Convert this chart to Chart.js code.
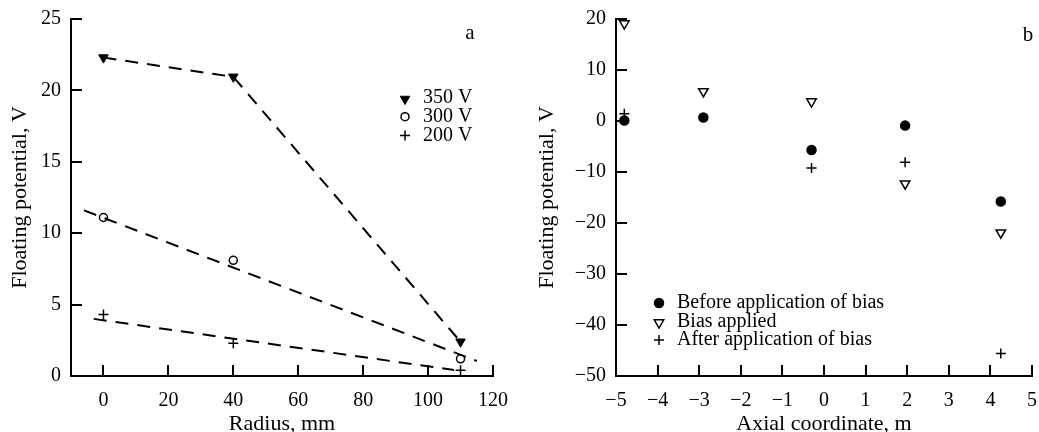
<!DOCTYPE html>
<html>
<head>
<meta charset="utf-8">
<script src="https://cdn.jsdelivr.net/npm/chart.js@4/dist/chart.umd.min.js"></script>
<style>
  body { margin: 0; background: #fff; }
  #wrap { position: relative; width: 1039px; height: 432px; overflow: hidden; }
  #panel-a { position: absolute; left: 0; top: 0; }
  #panel-b { position: absolute; left: 520px; top: 0; }
</style>
</head>
<body>
<div id="wrap">
  <canvas id="panel-a" width="520" height="432"></canvas>
  <canvas id="panel-b" width="519" height="432"></canvas>
</div>
<script>
// Panel a: floating potential vs radius for three discharge voltages
const radiusMm = [0, 40, 110];
const pot350 = [22.3, 20.95, 2.4];
const pot300 = [11.1, 8.1, 1.2];
const pot200 = [4.3, 2.3, 0.4];

// dashed guide lines drawn through each voltage group
const guide350X = [0, 40, 110];
const guide350Y = [22.3, 20.95, 2.4];
const guide300X = [-6, 115];
const guide300Y = [11.6, 1.05];
const guide200X = [-3, 108];
const guide200Y = [4.0, 0.42];

const radiusTicks = [0, 20, 40, 60, 80, 100, 120];
const potTicksA = [0, 5, 10, 15, 20, 25];

// Panel b: floating potential along the axis
const axialM = [-4.8, -2.9, -0.3, 1.95, 4.25];
const potBefore = [0.1, 0.7, -5.7, -0.9, -15.8];
const potBias = [19.1, 5.8, 3.8, -12.3, -21.9];
const axialAfter = [-4.8, -0.3, 1.95, 4.25];
const potAfter = [1.4, -9.2, -8.1, -45.6];

const axialTicks = [-5, -4, -3, -2, -1, 0, 1, 2, 3, 4, 5];
const potTicksB = [20, 10, 0, -10, -20, -30, -40, -50];

const SERIF = "'Liberation Serif', 'Times New Roman', serif";

function toPoints(xs, ys) {
    return xs.map((x, i) => ({ x: x, y: ys[i] }));
}

function minusLabel(v) {
    return v < 0 ? '\u2212' + Math.abs(v) : String(v);
}

// ticks in these plots point into the plot area, so draw them ourselves
const innerTicks = {
    id: 'innerTicks',
    afterDatasetsDraw(chart) {
        const { ctx, chartArea } = chart;
        const sx = chart.scales.x, sy = chart.scales.y;
        ctx.save();
        ctx.strokeStyle = '#000';
        ctx.lineWidth = 2;
        ctx.beginPath();
        sx.ticks.forEach(t => {
            const px = Math.round(sx.getPixelForValue(t.value));
            ctx.moveTo(px, chartArea.bottom);
            ctx.lineTo(px, chartArea.bottom - 11);
        });
        sy.ticks.forEach(t => {
            const py = Math.round(sy.getPixelForValue(t.value));
            ctx.moveTo(chartArea.left, py);
            ctx.lineTo(chartArea.left + 11, py);
        });
        ctx.stroke();
        ctx.restore();
    }
};

// small legend + panel letter drawn inside the plot
const panelNotes = {
    id: 'panelNotes',
    afterDraw(chart) {
        const opts = chart.options.plugins.panelNotes;
        const ctx = chart.ctx;
        ctx.save();
        ctx.font = '20px ' + SERIF;
        ctx.textBaseline = 'middle';
        ctx.fillStyle = '#000';
        opts.entries.forEach((e, i) => {
            const ds = chart.data.datasets[e.dataset];
            const y = opts.top + i * opts.step;
            ctx.fillStyle = ds.pointBackgroundColor;
            ctx.strokeStyle = ds.pointBorderColor;
            ctx.lineWidth = ds.pointBorderWidth;
            Chart.helpers.drawPoint(ctx, {
                pointStyle: ds.pointStyle,
                rotation: ds.pointRotation || 0,
                radius: ds.pointRadius,
                borderWidth: ds.pointBorderWidth
            }, opts.markerX, y + (ds.pointRotation ? 1 : 0));
            ctx.fillStyle = '#000';
            ctx.textAlign = 'left';
            ctx.fillText(e.label, opts.textX, y);
        });
        ctx.font = '21px ' + SERIF;
        ctx.textAlign = 'center';
        ctx.fillText(opts.letter, opts.letterX, opts.letterY);
        ctx.restore();
    }
};

function axisOptions(cfg) {
    return {
        x: {
            type: 'linear',
            min: cfg.xMin,
            max: cfg.xMax,
            afterBuildTicks: s => { s.ticks = cfg.xTicks.map(v => ({ value: v })); },
            afterFit: s => { s.height = 56; s.paddingLeft = 0; s.paddingRight = 0; },
            grid: { display: false, drawTicks: false },
            border: { display: true, color: '#000', width: 2 },
            ticks: {
                padding: 13,
                color: '#000',
                font: { family: SERIF, size: 20 },
                maxRotation: 0,
                autoSkip: false,
                callback: v => minusLabel(v)
            },
            title: {
                display: true,
                text: cfg.xTitle,
                color: '#000',
                font: { family: SERIF, size: 22 },
                padding: { top: 0, bottom: -5 }
            }
        },
        y: {
            type: 'linear',
            min: cfg.yMin,
            max: cfg.yMax,
            afterBuildTicks: s => { s.ticks = cfg.yTicks.map(v => ({ value: v })); },
            afterFit: s => { s.width = cfg.yWidth; s.paddingTop = 0; s.paddingBottom = 0; },
            grid: { display: false, drawTicks: false },
            border: { display: true, color: '#000', width: 2 },
            ticks: {
                padding: 10,
                color: '#000',
                font: { family: SERIF, size: 20 },
                autoSkip: false,
                callback: v => minusLabel(v)
            },
            title: {
                display: true,
                text: 'Floating potential, V',
                color: '#000',
                font: { family: SERIF, size: 22 },
                padding: { top: cfg.yTitlePad, bottom: 0 }
            }
        }
    };
}

function guide(xs, ys) {
    return {
        data: toPoints(xs, ys),
        showLine: true,
        borderColor: '#000',
        borderWidth: 2,
        borderDash: [13, 9],
        pointRadius: 0,
        fill: false
    };
}

function marks(xs, ys, style) {
    return Object.assign({
        data: toPoints(xs, ys),
        showLine: false,
        pointBorderColor: '#000',
        pointBackgroundColor: '#000',
        pointBorderWidth: 1.5
    }, style);
}

new Chart(document.getElementById('panel-a'), {
    type: 'scatter',
    data: {
        datasets: [
            guide(guide350X, guide350Y),
            guide(guide300X, guide300Y),
            guide(guide200X, guide200Y),
            marks(radiusMm, pot350, { pointStyle: 'triangle', pointRotation: 180, pointRadius: 5.5, pointBorderWidth: 1 }),
            marks(radiusMm, pot300, { pointStyle: 'circle', pointBackgroundColor: '#fff', pointRadius: 4 }),
            marks(radiusMm, pot200, { pointStyle: 'cross', pointRadius: 5, pointBorderWidth: 1.5 })
        ]
    },
    options: {
        responsive: false,
        animation: false,
        layout: { padding: { left: 0, right: 27, top: 19, bottom: 0 } },
        scales: axisOptions({
            xMin: -10, xMax: 120, xTicks: radiusTicks, xTitle: 'Radius, mm',
            yMin: 0, yMax: 25, yTicks: potTicksA, yWidth: 71, yTitlePad: 7
        }),
        plugins: {
            legend: { display: false },
            tooltip: { enabled: false },
            panelNotes: {
                entries: [
                    { dataset: 3, label: '350 V' },
                    { dataset: 4, label: '300 V' },
                    { dataset: 5, label: '200 V' }
                ],
                markerX: 405, textX: 423, top: 98, step: 18.7,
                letter: 'a', letterX: 470, letterY: 33
            }
        }
    },
    plugins: [innerTicks, panelNotes]
});

new Chart(document.getElementById('panel-b'), {
    type: 'scatter',
    data: {
        datasets: [
            marks(axialM, potBefore, { pointStyle: 'circle', pointRadius: 4.5 }),
            marks(axialM, potBias, { pointStyle: 'triangle', pointRotation: 180, pointRadius: 5.5, pointBackgroundColor: '#fff' }),
            marks(axialAfter, potAfter, { pointStyle: 'cross', pointRadius: 5, pointBorderWidth: 1.5 })
        ]
    },
    options: {
        responsive: false,
        animation: false,
        layout: { padding: { left: 0, right: 1, top: 19, bottom: 0 } },
        scales: axisOptions({
            xMin: -5, xMax: 5, xTicks: axialTicks, xTitle: 'Axial coordinate, m',
            yMin: -50, yMax: 20, yTicks: potTicksB, yWidth: 96, yTitlePad: 14
        }),
        plugins: {
            legend: { display: false },
            tooltip: { enabled: false },
            panelNotes: {
                entries: [
                    { dataset: 0, label: 'Before application of bias' },
                    { dataset: 1, label: 'Bias applied' },
                    { dataset: 2, label: 'After application of bias' }
                ],
                markerX: 139, textX: 157, top: 303, step: 18.5,
                letter: 'b', letterX: 508, letterY: 35
            }
        }
    },
    plugins: [innerTicks, panelNotes]
});
</script>
</body>
</html>
